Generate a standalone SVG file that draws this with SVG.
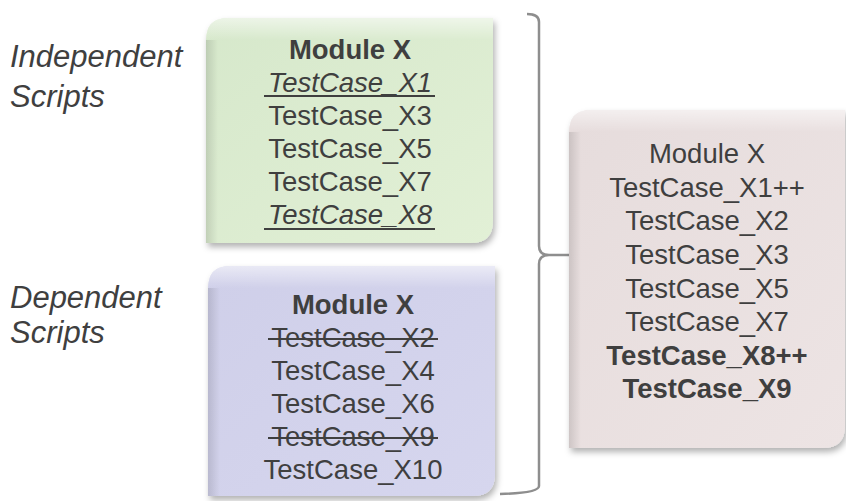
<svg xmlns="http://www.w3.org/2000/svg" width="846" height="501" viewBox="0 0 846 501">
  <defs>
    <linearGradient id="gGreen" x1="0" y1="0" x2="1" y2="1">
      <stop offset="0" stop-color="#d6e8cb"/>
      <stop offset="1" stop-color="#e2f0d6"/>
    </linearGradient>
    <linearGradient id="gBlue" x1="0" y1="0" x2="1" y2="1">
      <stop offset="0" stop-color="#cfcfe9"/>
      <stop offset="1" stop-color="#d6d6ee"/>
    </linearGradient>
    <linearGradient id="gPink" x1="0" y1="0" x2="1" y2="1">
      <stop offset="0" stop-color="#e6dcdc"/>
      <stop offset="1" stop-color="#ede4e4"/>
    </linearGradient>
    <linearGradient id="topHi" x1="0" y1="0" x2="0" y2="1">
      <stop offset="0" stop-color="#ffffff" stop-opacity="0.55"/>
      <stop offset="1" stop-color="#ffffff" stop-opacity="0"/>
    </linearGradient>
    <linearGradient id="leftSh" x1="0" y1="0" x2="1" y2="0">
      <stop offset="0" stop-color="#000000" stop-opacity="0.12"/>
      <stop offset="1" stop-color="#000000" stop-opacity="0"/>
    </linearGradient>
    <filter id="shadow" x="-10%" y="-10%" width="125%" height="125%">
      <feDropShadow dx="2" dy="4" stdDeviation="3" flood-color="#000" flood-opacity="0.3"/>
    </filter>
  </defs>
  <style>
    text { font-family: "Liberation Sans", Arial, Helvetica, sans-serif; fill: #3f3f3f; }
    .lbl { font-size: 31px; font-style: italic; }
    .box { font-size: 27.5px; text-anchor: middle; }
    .b { font-weight: bold; }
    .i { font-style: italic; }
    .ul { stroke: #3f3f3f; stroke-width: 2; }
    .st { stroke: #3f3f3f; stroke-width: 2; }
    .brace { fill: none; stroke: #8e8e8e; stroke-width: 2.5; }
  </style>

  <g id="label-independent">
    <text class="lbl" x="10" y="67">Independent</text>
    <text class="lbl" x="10" y="107">Scripts</text>
  </g>
  <g id="label-dependent">
    <text class="lbl" x="10" y="308">Dependent</text>
    <text class="lbl" x="10" y="343">Scripts</text>
  </g>

  <g id="connectors">
    <path class="brace" d="M527,14 Q539,14 539,22 L539,246 Q539,255 549,255 Q539,255 539,264 L539,486 Q539,493 500,494"/>
    <line class="brace" x1="549" y1="255" x2="570" y2="255"/>
  </g>

  <g id="box-independent">
    <path d="M228,18 L493,18 L493,221 Q493,243 471,243 L206,243 L206,40 Q206,18 228,18 Z" fill="url(#gGreen)" filter="url(#shadow)"/>
    <path d="M228,18 L493,18 L493,40 L206,40 Q206,18 228,18 Z" fill="url(#topHi)"/>
    <rect x="206" y="40" width="12" height="203" fill="url(#leftSh)"/>
    <text class="box b" x="350" y="59">Module X</text>
    <text class="box i" x="350" y="92">TestCase_X1</text>
    <line class="ul" x1="264" y1="96" x2="435" y2="96"/>
    <text class="box" x="350" y="125">TestCase_X3</text>
    <text class="box" x="350" y="158">TestCase_X5</text>
    <text class="box" x="350" y="191">TestCase_X7</text>
    <text class="box i" x="350" y="224">TestCase_X8</text>
    <line class="ul" x1="264" y1="229" x2="435" y2="229"/>
  </g>

  <g id="box-dependent">
    <path d="M230,266 L495,266 L495,474 Q495,496 473,496 L208,496 L208,288 Q208,266 230,266 Z" fill="url(#gBlue)" filter="url(#shadow)"/>
    <path d="M230,266 L495,266 L495,288 L208,288 Q208,266 230,266 Z" fill="url(#topHi)"/>
    <rect x="208" y="288" width="12" height="208" fill="url(#leftSh)"/>
    <text class="box b" x="353" y="314">Module X</text>
    <text class="box" x="353" y="347">TestCase_X2</text>
    <line class="st" x1="268" y1="339" x2="438" y2="339"/>
    <text class="box" x="353" y="380">TestCase_X4</text>
    <text class="box" x="353" y="413">TestCase_X6</text>
    <text class="box" x="353" y="446">TestCase_X9</text>
    <line class="st" x1="268" y1="438" x2="438" y2="438"/>
    <text class="box" x="353" y="479">TestCase_X10</text>
  </g>

  <g id="box-merged">
    <path d="M591,110 L845,110 L845,426 Q845,448 823,448 L569,448 L569,132 Q569,110 591,110 Z" fill="url(#gPink)" filter="url(#shadow)"/>
    <path d="M591,110 L845,110 L845,132 L569,132 Q569,110 591,110 Z" fill="url(#topHi)"/>
    <rect x="569" y="132" width="12" height="316" fill="url(#leftSh)"/>
    <text class="box" x="707" y="163">Module X</text>
    <text class="box" x="707" y="197">TestCase_X1++</text>
    <text class="box" x="707" y="230">TestCase_X2</text>
    <text class="box" x="707" y="264">TestCase_X3</text>
    <text class="box" x="707" y="298">TestCase_X5</text>
    <text class="box" x="707" y="331">TestCase_X7</text>
    <text class="box b" x="707" y="365">TestCase_X8++</text>
    <text class="box b" x="707" y="398">TestCase_X9</text>
  </g>
</svg>
